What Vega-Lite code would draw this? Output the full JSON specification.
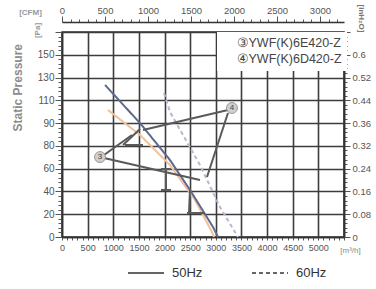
{
  "$schema": "https://vega.github.io/schema/vega-lite/v6.json",
  "width": 282,
  "height": 205,
  "autosize": {"type": "none"},
  "padding": {"left": 62, "top": 32, "right": 32, "bottom": 52},
  "background": "white",
  "title": {"text": "Static Pressure", "orient": "left", "anchor": "end", "frame": "group", "fontSize": 12, "fontWeight": "bold", "color": "#8c8c8c", "font": "Liberation Sans", "offset": -6, "dx": -12},
  "datasets": {
    "curves": [
      {"series": "A", "freq": "50Hz", "flow": 897, "pa": 111.5},
      {"series": "A", "freq": "50Hz", "flow": 1521, "pa": 89.6},
      {"series": "A", "freq": "50Hz", "flow": 2106, "pa": 63.2},
      {"series": "A", "freq": "50Hz", "flow": 2594, "pa": 32.5},
      {"series": "A", "freq": "50Hz", "flow": 2925, "pa": 4.4},
      {"series": "A", "freq": "50Hz", "flow": 2964, "pa": 0},
      {"series": "B", "freq": "60Hz", "flow": 1989, "pa": 126.4},
      {"series": "B", "freq": "60Hz", "flow": 2106, "pa": 109.8},
      {"series": "B", "freq": "60Hz", "flow": 2691, "pa": 63.2},
      {"series": "B", "freq": "60Hz", "flow": 3081, "pa": 26.3},
      {"series": "B", "freq": "60Hz", "flow": 3432, "pa": 0},
      {"series": "C", "freq": "50Hz", "flow": 839, "pa": 133.5},
      {"series": "C", "freq": "50Hz", "flow": 1521, "pa": 100},
      {"series": "C", "freq": "50Hz", "flow": 2106, "pa": 67.6},
      {"series": "C", "freq": "50Hz", "flow": 2496, "pa": 41.3},
      {"series": "C", "freq": "50Hz", "flow": 2945, "pa": 8.8},
      {"series": "C", "freq": "50Hz", "flow": 3042, "pa": 0}
    ],
    "leaders": [
      {"x1": 3237, "y1": 111.5, "x2": 1580, "y2": 94.0},
      {"x1": 3237, "y1": 108.9, "x2": 2828, "y2": 52.7},
      {"x1": 819, "y1": 72.0, "x2": 1365, "y2": 89.6},
      {"x1": 819, "y1": 69.4, "x2": 2691, "y2": 50.0},
      {"x1": 1229, "y1": 80.8, "x2": 1580, "y2": 80.8},
      {"x1": 1190, "y1": 80.8, "x2": 1521, "y2": 94.8},
      {"x1": 2028, "y1": 59.7, "x2": 2028, "y2": 41.3},
      {"x1": 1931, "y1": 59.7, "x2": 2126, "y2": 59.7},
      {"x1": 1931, "y1": 41.3, "x2": 2126, "y2": 41.3},
      {"x1": 2496, "y1": 41.3, "x2": 2477, "y2": 21.1},
      {"x1": 2438, "y1": 21.1, "x2": 2789, "y2": 21.1}
    ],
    "markers": [
      {"model": "③YWF(K)6E420-Z", "num": "3", "flow": 741, "pa": 70.2},
      {"model": "④YWF(K)6D420-Z", "num": "4", "flow": 3315, "pa": 113.3}
    ],
    "cfmaxis": [
      {"cfm": 0, "pa": 0},
      {"cfm": 3280, "pa": 180}
    ]
  },
  "layer": [
    {
      "data": {"name": "curves"},
      "mark": {"type": "line", "strokeWidth": 2},
      "encoding": {
        "x": {
          "field": "flow", "type": "quantitative",
          "scale": {"domain": [0, 5500], "nice": false, "zero": false},
          "axis": {
            "orient": "bottom",
            "values": [0,100,200,300,400,500,600,700,800,900,1000,1100,1200,1300,1400,1500,1600,1700,1800,1900,2000,2100,2200,2300,2400,2500,2600,2700,2800,2900,3000,3100,3200,3300,3400,3500,3600,3700,3800,3900,4000,4100,4200,4300,4400,4500,4600,4700,4800,4900,5000,5100,5200,5300,5400,5500],
            "format": "d",
            "labelExpr": "datum.value % 500 == 0 && datum.value <= 5000 ? datum.label : ''",
            "labelOverlap": false, "labelFlush": false,
            "labelFontSize": 9, "labelPadding": 3,
            "tickSize": 3,
            "grid": true,
            "gridOpacity": {"condition": {"test": "datum.value % 500 == 0", "value": 1}, "value": 0},
            "title": "[m³/h]", "titleX": 288, "titleY": 13, "titleFontSize": 8, "titleFontWeight": "normal",
            "titleColor": "#888", "titleAlign": "center", "titleBaseline": "middle"
          }
        },
        "y": {
          "field": "pa", "type": "quantitative",
          "scale": {"domain": [0, 180], "nice": false},
          "axis": {
            "orient": "left",
            "values": [0,4,8,12,16,20,24,28,32,36,40,44,48,52,56,60,64,68,72,76,80,84,88,92,96,100,104,108,112,116,120,124,128,132,136,140,144,148,152,156,160,164,168,172,176,180],
            "labelExpr": "datum.value==100?'90':datum.value==120?'110':datum.value==140?'130':datum.value==160?'150':(datum.value%20==0&&datum.value<100)?datum.label:''",
            "labelOverlap": false, "labelFlush": false,
            "labelFontSize": 10, "labelPadding": 1,
            "tickSize": {"condition": {"test": "datum.value % 20 == 0", "value": 7}, "value": 4},
            "grid": true,
            "gridOpacity": {"condition": {"test": "datum.value % 20 == 0", "value": 1}, "value": 0},
            "title": "[Pa]", "titleX": -25, "titleY": -2, "titleAngle": -90, "titleFontSize": 8,
            "titleColor": "#999", "titleFontWeight": "bold", "titleAlign": "center", "titleBaseline": "middle"
          }
        },
        "color": {
          "field": "series", "type": "nominal",
          "scale": {"domain": ["A", "B", "C"], "range": ["#f0c29c", "#bcb6cc", "#5d6a8e"]},
          "legend": null
        },
        "strokeDash": {
          "field": "freq", "type": "nominal",
          "scale": {"domain": ["50Hz", "60Hz"], "range": [[1, 0], [4, 3]]},
          "legend": {
            "orient": "none", "legendX": 65, "legendY": 222, "direction": "horizontal",
            "title": null, "symbolType": "stroke", "symbolSize": 1300, "symbolStrokeWidth": 1.5,
            "symbolStrokeColor": "#333", "labelFontSize": 13, "labelColor": "#333",
            "labelFont": "Liberation Sans", "labelOffset": 7, "columnPadding": 45, "padding": 0
          }
        }
      }
    },
    {
      "data": {"name": "leaders"},
      "mark": {"type": "rule", "color": "#5a5a5a", "strokeWidth": 2},
      "encoding": {
        "x": {"field": "x1", "type": "quantitative", "scale": {"domain": [0, 5500], "nice": false, "zero": false}, "axis": null},
        "x2": {"field": "x2"},
        "y": {"field": "y1", "type": "quantitative", "scale": {"domain": [0, 180], "nice": false}, "axis": null},
        "y2": {"field": "y2"}
      }
    },
    {
      "data": {"name": "markers"},
      "mark": {"type": "point", "filled": true, "size": 120, "color": "#cfcfcf", "stroke": "#9a9a9a", "strokeWidth": 1, "opacity": 1},
      "encoding": {
        "x": {"field": "flow", "type": "quantitative", "scale": {"domain": [0, 5500], "nice": false, "zero": false}, "axis": null},
        "y": {"field": "pa", "type": "quantitative", "scale": {"domain": [0, 180], "nice": false}, "axis": null},
        "shape": {
          "field": "model", "type": "nominal",
          "scale": {"range": ["circle", "circle"]},
          "legend": {
            "orient": "none", "legendX": 155, "legendY": 0, "title": null,
            "fillColor": "white", "padding": 5, "symbolOpacity": 0, "symbolSize": 1,
            "labelFontSize": 12.5, "labelColor": "#444", "labelFont": "Liberation Sans",
            "rowPadding": 3, "labelOffset": 2, "labelLimit": 200
          }
        }
      }
    },
    {
      "data": {"name": "markers"},
      "mark": {"type": "text", "fontSize": 8, "color": "#444", "font": "Liberation Sans"},
      "encoding": {
        "x": {"field": "flow", "type": "quantitative", "scale": {"domain": [0, 5500], "nice": false, "zero": false}, "axis": null},
        "y": {"field": "pa", "type": "quantitative", "scale": {"domain": [0, 180], "nice": false}, "axis": null},
        "text": {"field": "num"}
      }
    },
    {
      "data": {"name": "cfmaxis"},
      "mark": {"type": "point", "opacity": 0},
      "encoding": {
        "x": {
          "field": "cfm", "type": "quantitative",
          "scale": {"domain": [0, 3280], "nice": false, "zero": false},
          "axis": {
            "orient": "top", "offset": 10,
            "values": [0,100,200,300,400,500,600,700,800,900,1000,1100,1200,1300,1400,1500,1600,1700,1800,1900,2000,2100,2200,2300,2400,2500,2600,2700,2800,2900,3000,3100,3200],
            "format": "d",
            "labelExpr": "datum.value % 500 == 0 ? datum.label : ''",
            "labelOverlap": false, "labelFlush": false,
            "labelFontSize": 9.5, "labelPadding": 1,
            "tickSize": {"condition": {"test": "datum.value % 500 == 0", "value": 6}, "value": 3},
            "grid": false,
            "title": "[CFM]", "titleX": -32, "titleY": -10, "titleFontSize": 8, "titleFontWeight": "bold",
            "titleColor": "#999", "titleAlign": "center", "titleBaseline": "middle"
          }
        },
        "y": {
          "field": "pa", "type": "quantitative",
          "scale": {"domain": [0, 180], "nice": false},
          "axis": {
            "orient": "right",
            "values": [0,4,8,12,16,20,24,28,32,36,40,44,48,52,56,60,64,68,72,76,80,84,88,92,96,100,104,108,112,116,120,124,128,132,136,140,144,148,152,156,160,164,168,172,176,180],
            "labelExpr": "datum.value==0?'0':datum.value==20?'0.08':datum.value==40?'0.16':datum.value==60?'0.24':datum.value==80?'0.32':datum.value==100?'0.36':datum.value==120?'0.44':datum.value==140?'0.52':datum.value==160?'0.6':''",
            "labelOverlap": false, "labelFlush": false,
            "labelFontSize": 9.5, "labelPadding": 2,
            "tickSize": {"condition": {"test": "datum.value % 20 == 0", "value": 6}, "value": 3},
            "grid": false,
            "title": "[inH₂O]", "titleX": 16, "titleY": -14, "titleAngle": 90, "titleFontSize": 8,
            "titleColor": "#777", "titleFontWeight": "bold", "titleAlign": "center", "titleBaseline": "middle"
          }
        }
      }
    }
  ],
  "resolve": {
    "scale": {"x": "independent", "y": "shared"},
    "axis": {"x": "independent", "y": "independent"}
  },
  "config": {
    "view": {"stroke": "#333", "strokeWidth": 1.6},
    "axis": {
      "labelFont": "Liberation Sans", "titleFont": "Liberation Sans",
      "labelColor": "#555", "tickColor": "#555", "domainColor": "#333",
      "gridColor": "#3c3c3c", "gridWidth": 1.6, "domainWidth": 1.5, "tickWidth": 1
    }
  }
}
